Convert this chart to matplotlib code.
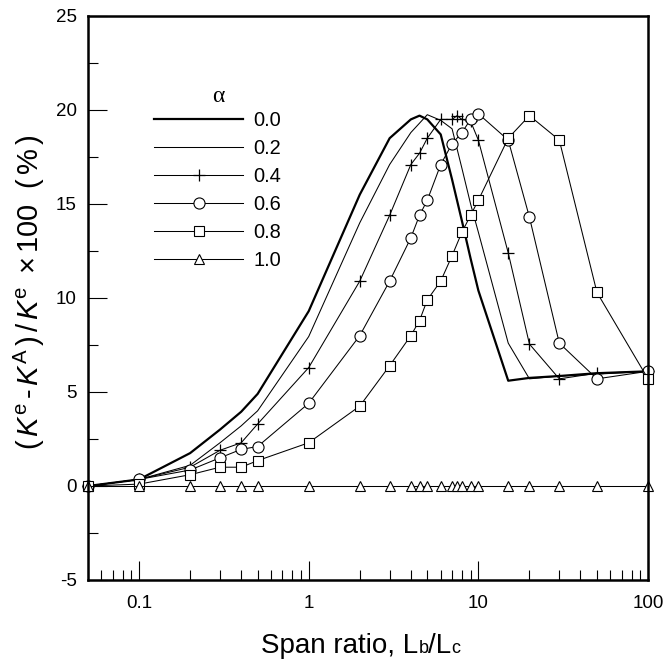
import numpy as np
import matplotlib
matplotlib.use('Agg')
import matplotlib.pyplot as plt
from matplotlib.ticker import FixedLocator, FuncFormatter, MultipleLocator
from matplotlib.offsetbox import TextArea, HPacker, AnchoredOffsetbox

plt.rcParams['font.family'] = ['Liberation Sans', 'DejaVu Sans']
plt.rcParams['mathtext.fontset'] = 'custom'
plt.rcParams['mathtext.rm'] = 'Liberation Sans'
plt.rcParams['mathtext.it'] = 'Liberation Sans:italic'
plt.rcParams['axes.unicode_minus'] = False

# span ratio Lb/Lc used for every series
x_a00 = [0.05, 0.1, 0.2, 0.3, 0.4, 0.5, 1, 2, 3, 4, 4.5, 5, 6, 7, 8, 9, 10, 15, 20, 30, 50, 100]
y_a00 = [0, 0.35, 1.75, 3.0, 3.95, 4.9, 9.3, 15.5, 18.5, 19.5, 19.7, 19.5, 18.7, 16.3, 14.1, 12.1, 10.4, 5.6, 5.75, 5.85, 6.0, 6.1]

x_a02 = [0.05, 0.1, 0.2, 0.3, 0.4, 0.5, 1, 2, 3, 4, 4.5, 5, 6, 7, 8, 9, 10, 15, 20, 30, 50, 100]
y_a02 = [0, 0.35, 1.1, 2.3, 3.2, 4.0, 7.95, 14.0, 17.1, 18.8, 19.3, 19.75, 19.45, 19.0, 16.9, 15.0, 13.5, 7.6, 5.7, 5.85, 5.95, 6.1]

x_a04 = [0.05, 0.1, 0.2, 0.3, 0.4, 0.5, 1, 2, 3, 4, 4.5, 5, 6, 7, 7.5, 8, 9, 10, 15, 20, 30, 50, 100]
y_a04 = [0, 0.35, 1.0, 1.9, 2.3, 3.3, 6.3, 10.9, 14.4, 17.1, 17.7, 18.5, 19.5, 19.5, 19.7, 19.5, 19.4, 18.4, 12.4, 7.55, 5.7, 6.0, 6.1]

x_a06 = [0.05, 0.1, 0.2, 0.3, 0.4, 0.5, 1, 2, 3, 4, 4.5, 5, 6, 7, 8, 9, 10, 15, 20, 30, 50, 100]
y_a06 = [0, 0.35, 0.85, 1.5, 1.95, 2.1, 4.4, 8.0, 10.9, 13.2, 14.4, 15.2, 17.1, 18.2, 18.8, 19.5, 19.8, 18.4, 14.3, 7.6, 5.7, 6.1]

x_a08 = [0.05, 0.1, 0.2, 0.3, 0.4, 0.5, 1, 2, 3, 4, 4.5, 5, 6, 7, 8, 9, 10, 15, 20, 30, 50, 100]
y_a08 = [0, 0.1, 0.6, 1.0, 1.0, 1.35, 2.3, 4.25, 6.4, 8.0, 8.8, 9.9, 10.9, 12.25, 13.5, 14.4, 15.2, 18.5, 19.7, 18.4, 10.3, 5.7]

x_a10 = [0.05, 0.1, 0.2, 0.3, 0.4, 0.5, 1, 2, 3, 4, 4.5, 5, 6, 7, 7.5, 8, 9, 10, 15, 20, 30, 50, 100]
y_a10 = [0] * len(x_a10)

labels = ['0.0', '0.2', '0.4', '0.6', '0.8', '1.0']

fig = plt.figure(figsize=(6.68, 6.66), dpi=100)
ax = fig.add_axes([88/668, 1 - 580/666, 560/668, 564/666])

thin = dict(color='black', lw=0.75, clip_on=False)
mk = dict(markerfacecolor='white', markeredgecolor='black', markeredgewidth=0.8)

ax.plot(x_a00, y_a00, color='black', lw=1.6, clip_on=False, label=labels[0])
ax.plot(x_a02, y_a02, label=labels[1], **thin)
ax.plot(x_a04, y_a04, marker='+', markersize=9, markeredgewidth=0.9, color='black',
        lw=0.75, clip_on=False, label=labels[2])
ax.plot(x_a06, y_a06, marker='o', markersize=8, label=labels[3], **thin, **mk)
ax.plot(x_a08, y_a08, marker='s', markersize=7, label=labels[4], **thin, **mk)
ax.plot(x_a10, y_a10, marker='^', markersize=7.5, label=labels[5], **thin, **mk)

ax.set_xscale('log')
ax.set_xlim(0.05, 100)
ax.set_ylim(-5, 25)

ax.xaxis.set_major_locator(FixedLocator([0.1, 1, 10, 100]))
ax.xaxis.set_major_formatter(FuncFormatter(lambda v, p: '%g' % v))
minors = [m * 10.0 ** e for e in range(-2, 2) for m in range(2, 10)]
ax.xaxis.set_minor_locator(FixedLocator([v for v in minors if 0.05 <= v <= 100]))
ax.yaxis.set_major_locator(MultipleLocator(5))
ax.yaxis.set_minor_locator(MultipleLocator(2.5))

ax.tick_params(which='both', direction='in', top=False, right=False, width=0.8,
               labelsize=13.5)
ax.tick_params(axis='x', pad=11)
ax.tick_params(axis='y', pad=8)
ax.tick_params(which='major', length=13.5)
ax.tick_params(which='minor', length=7)
for s in ax.spines.values():
    s.set_linewidth(1.8)

ax.set_ylabel(r'($\,K^{\mathrm{e}}\,$-$\,K^{\mathrm{A}}\,$)$\,$/$\,K^{\mathrm{e}}\,$ ×$\,$100  ($\,$%$\,$)',
              fontsize=21)
ax.yaxis.set_label_coords(-0.073, 0.51)

# x label with small baseline letters b and c
parts = [TextArea('Span ratio, L', textprops=dict(fontsize=20)),
         TextArea('b', textprops=dict(fontsize=13)),
         TextArea('/L', textprops=dict(fontsize=20)),
         TextArea('c', textprops=dict(fontsize=13))]
box = HPacker(children=parts, align='baseline', pad=0, sep=0)
anc = AnchoredOffsetbox(loc='upper center', child=box, pad=0, borderpad=0, frameon=False,
                        bbox_to_anchor=(361/668, 1 - 633/666), bbox_transform=fig.transFigure)
fig.add_artist(anc)

leg = ax.legend(loc='upper left', bbox_to_anchor=(0.118, 0.831),
                frameon=False, fontsize=14.4, handlelength=4.45,
                handletextpad=0.5, labelspacing=0.45, borderpad=0, borderaxespad=0,
                numpoints=1)
ax.text(0.232, 0.858, 'α', transform=ax.transAxes, ha='center', va='center',
        fontsize=17, family=['Liberation Serif', 'DejaVu Serif'])

fig.savefig('out.png', dpi=100)
